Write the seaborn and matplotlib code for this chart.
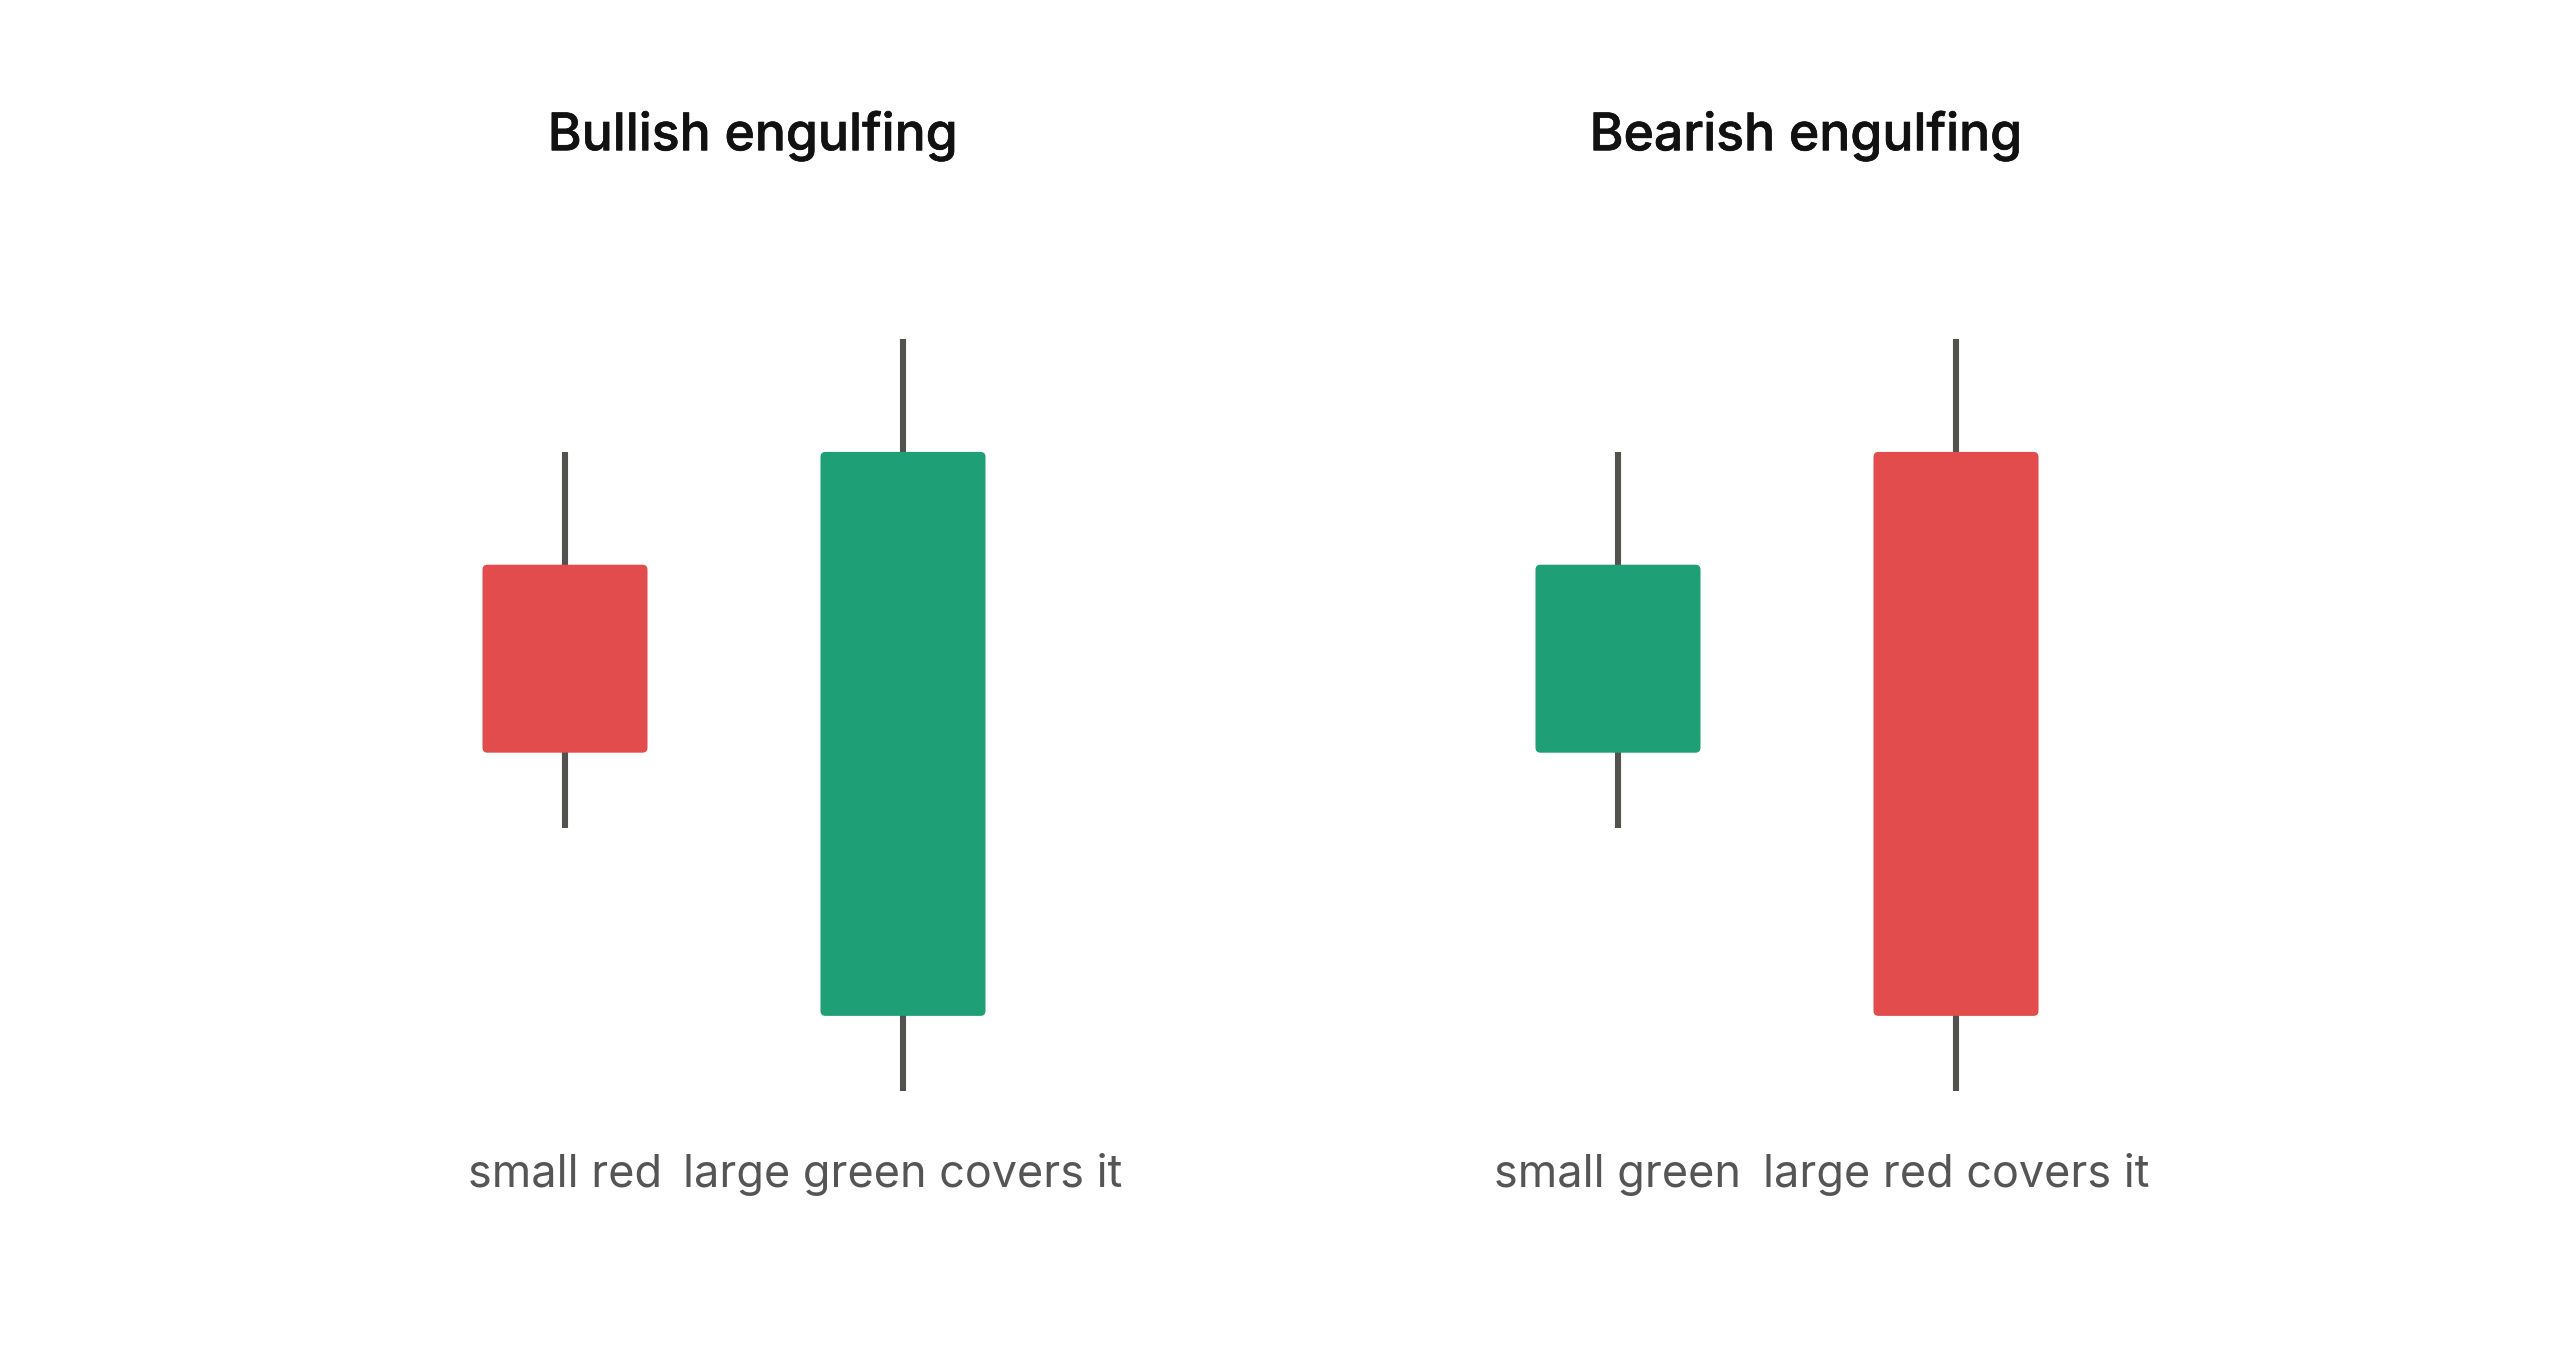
import matplotlib
matplotlib.use("Agg")
import matplotlib.pyplot as plt
from matplotlib.patches import FancyBboxPatch
import matplotlib.patheffects as pe
import seaborn as sns

# ---- data ----
panel_titles = ["Bullish engulfing", "Bearish engulfing"]
candle_labels = [["small red", "large green covers it"],
                 ["small green", "large red covers it"]]
opens = [[14, 2], [9, 17]]
closes = [[9, 17], [14, 2]]
highs = [[17, 20], [17, 20]]
lows = [[7, 0], [7, 0]]

UP = "#1E9F76"
DOWN = "#E34C4C"
WICK = "#52514E"
LABEL = "#555555"
TITLE = "#111111"

sns.set_theme(style="white")
plt.rcParams['font.family'] = ['Inter', 'DejaVu Sans']

W, H = 2560, 1355
fig = plt.figure(figsize=(W / 100, H / 100), dpi=100)
fig.patch.set_facecolor("white")

px_per_x = 338.0
px_per_y = 37.6
xlo, xhi = -0.9, 2.012
ylo, yhi = -7.02, 29.02
ax_w = (xhi - xlo) * px_per_x
lefts = [565 - 0.9 * px_per_x, 1618 - 0.9 * px_per_x]
body_w = 165 / px_per_x
r = 5 / px_per_x

for p in range(2):
    ax = fig.add_axes([lefts[p] / W, 0, ax_w / W, 1])
    ax.set_xlim(xlo, xhi)
    ax.set_ylim(ylo, yhi)
    ax.axis("off")
    for i in range(2):
        o, c, h, l = opens[p][i], closes[p][i], highs[p][i], lows[p][i]
        col = UP if c > o else DOWN
        ax.vlines(i, l, h, color=WICK, linewidth=4.4, zorder=1)
        bot, top = min(o, c), max(o, c)
        box = FancyBboxPatch((i - body_w / 2, bot), body_w, top - bot,
                             boxstyle=f"round,pad=0,rounding_size={r}",
                             mutation_aspect=px_per_x / px_per_y,
                             facecolor=col, edgecolor="none", zorder=2)
        ax.add_patch(box)
        ax.text(i, -2.22, candle_labels[p][i], ha="center", va="center",
                fontsize=32.4, color=LABEL)
    ax.text((xlo + xhi) / 2, 25.41, panel_titles[p], ha="center", va="center",
            fontsize=37.2, fontweight="medium", color=TITLE,
            path_effects=[pe.withStroke(linewidth=0.5, foreground=TITLE)])

fig.savefig("out.png", dpi=100, facecolor="white")
